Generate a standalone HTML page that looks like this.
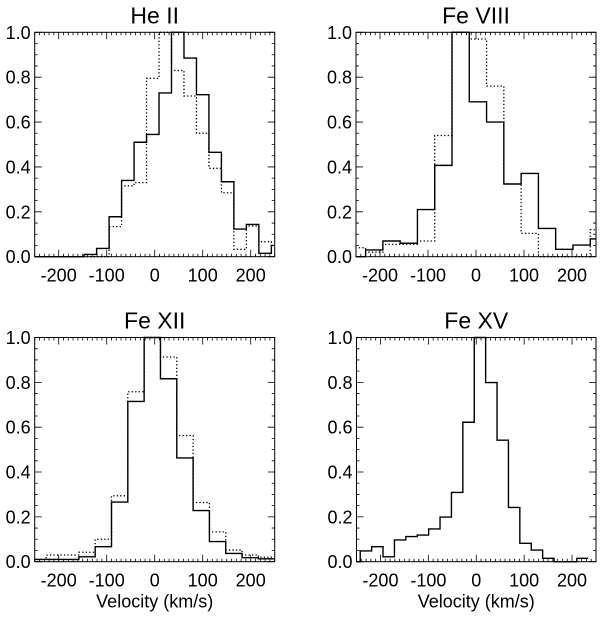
<!DOCTYPE html>
<html><head><meta charset="utf-8"><style>
html,body{margin:0;padding:0;background:#fff;}
svg text{font-family:"Liberation Sans",sans-serif;fill:#000;}
</style></head><body>
<svg id="chart" width="600" height="612" viewBox="0 0 600 612" xmlns="http://www.w3.org/2000/svg"></svg>
<script>
const titles = ["He II","Fe VIII","Fe XII","Fe XV"];
const xTicks = [-200,-100,0,100,200];
const yTicks = [0.0,0.2,0.4,0.6,0.8,1.0];
// bin edges: start & width per panel (km/s)
const binStart = [-251,-266,-260,-266];
const binWidth = [26,36,34,23.8];
const heSolid = [0,0,0,0,0.01,0.037,0.178,0.34,0.51,0.545,0.73,1.0,0.885,0.722,0.465,0.334,0.123,0.144,0.015,0.05];
const heDotted = [0,0,0,0,0,0,0.134,0.316,0.33,0.795,1.0,0.83,0.716,0.55,0.394,0.285,0.033,0.137,0.067,0.05];
const fe8Solid = [0,0.03,0.07,0.06,0.21,0.407,1.0,0.69,0.6,0.324,0.371,0.126,0.033,0.052,0.079];
const fe8Dotted = [0.04,0.02,0.055,0.055,0.07,0.54,1.0,0.97,0.76,0.324,0.104,0,0,0,0.12];
const fe12Solid = [0.01,0.01,0.01,0.022,0.067,0.266,0.715,1.0,0.816,0.463,0.228,0.09,0.037,0.018,0.013];
const fe12Dotted = [0.01,0.03,0.03,0.042,0.1,0.294,0.758,1.0,0.913,0.563,0.264,0.133,0.052,0.03,0.02];
const fe15Solid = [0,0.048,0.067,0.022,0.097,0.112,0.119,0.146,0.199,0.309,0.622,1.0,0.799,0.542,0.242,0.082,0.052,0.015,0,0,0.015];
const solidSeries = [heSolid,fe8Solid,fe12Solid,fe15Solid];
const dottedSeries = [heDotted,fe8Dotted,fe12Dotted,null];

const NS="http://www.w3.org/2000/svg";
const svg=document.getElementById('chart');
const panels=[
 {l:34.7,r:274.7,t:32.3,b:256.7},
 {l:356,r:596,t:32.3,b:256.7},
 {l:34.7,r:274.7,t:337.5,b:561.7},
 {l:356.5,r:596,t:337.5,b:561.7}];
function mk(tag,attrs,parent){const e=document.createElementNS(NS,tag);for(const k in attrs)e.setAttribute(k,attrs[k]);(parent||svg).appendChild(e);return e;}

panels.forEach((p,i)=>{
  const g=mk('g',{});
  
  
  const xs=v=>p.l+(v+250)/500*(p.r-p.l);
  const ys=v=>p.b-v*(p.b-p.t);
  const cid='clip'+i;
  const cp=mk('clipPath',{id:cid},g);mk('rect',{x:p.l,y:p.t-1,width:p.r-p.l,height:p.b-p.t+2},cp);
  function stepPath(vals){
    let d='';
    vals.forEach((v,k)=>{const x0=xs(binStart[i]+k*binWidth[i]),x1=xs(binStart[i]+(k+1)*binWidth[i]),y=ys(v);
      d+=(k===0?'M':'L')+x0.toFixed(2)+','+y.toFixed(2)+'L'+x1.toFixed(2)+','+y.toFixed(2);});
    return d;}
  if(dottedSeries[i]){
    const d=mk('path',{d:stepPath(dottedSeries[i]),fill:'none',stroke:'#000','stroke-width':1.3,'stroke-dasharray':'1.3 2.2','clip-path':'url(#'+cid+')'},g);
    
    
  }
  const s=mk('path',{d:stepPath(solidSeries[i]),fill:'none',stroke:'#000','stroke-width':1.4,'clip-path':'url(#'+cid+')'},g);
  
  
  const fr=mk('rect',{x:p.l,y:p.t,width:p.r-p.l,height:p.b-p.t,fill:'none',stroke:'#000','stroke-width':1},g);
  
  
  let td='';
  for(let v=-250;v<=250;v+=10){const x=xs(v);const L=(v%100===0)?7:3;
    td+=`M${x},${p.b}v${-L}M${x},${p.t}v${L}`;}
  for(let k=0;k<=20;k++){const v=k*0.05;const y=ys(v);const L=(k%4===0)?7:3;
    td+=`M${p.l},${y}h${L}M${p.r},${y}h${-L}`;}
  const tk=mk('path',{d:td,stroke:'#000','stroke-width':0.8,fill:'none'},g);
  
  
  xTicks.forEach(v=>{const t=mk('text',{x:xs(v),y:p.b+25,'font-size':18,'text-anchor':'middle'},g);t.textContent=v;
    
    });
  yTicks.forEach(v=>{const t=mk('text',{x:p.l-4,y:ys(v)+6.5,'font-size':18,'text-anchor':'end'},g);t.textContent=v.toFixed(1);
    
    });
  const tt=mk('text',{x:(p.l+p.r)/2,y:p.t-9,'font-size':23,'text-anchor':'middle'},g);tt.textContent=titles[i];
  
  
  if(i>=2){const xl=mk('text',{x:(p.l+p.r)/2,y:p.b+46,'font-size':18,'text-anchor':'middle'},g);xl.textContent='Velocity (km/s)';
    
    }
});
</script>
</body></html>
